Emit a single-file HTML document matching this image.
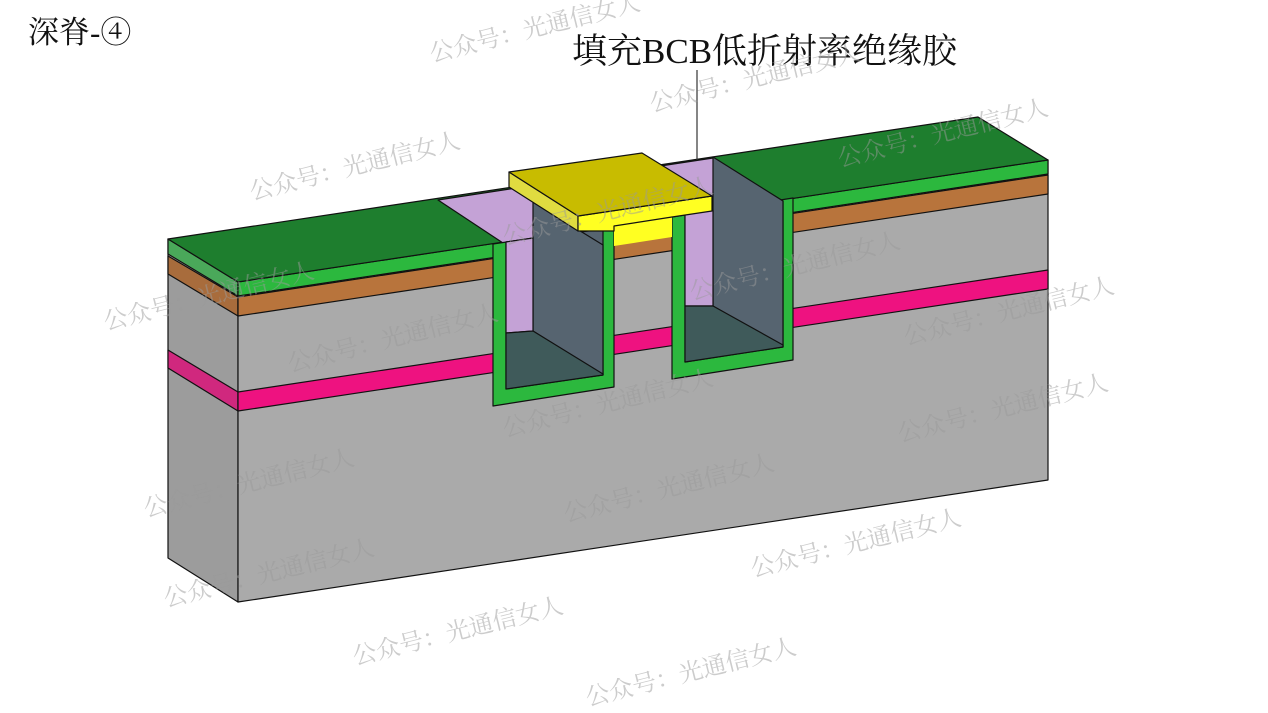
<!DOCTYPE html>
<html><head><meta charset="utf-8"><style>
html,body{margin:0;padding:0;background:#fff;}
svg{display:block}
text{font-family:"Liberation Serif","Noto Serif CJK SC",serif;}
</style></head><body>
<svg width="1268" height="713" viewBox="0 0 1268 713" xmlns="http://www.w3.org/2000/svg">
<g stroke="#111" stroke-width="1.2" stroke-linejoin="round">
<polygon points="168,239 238,282 238,602 168,558" fill="#9c9c9c"/>
<polygon points="168,239 238,282 238,296 168,254" fill="#4aa85a"/>
<polygon points="168,256 238,297 238,316 168,274" fill="#a86c3c"/>
<polygon points="168,350 238,392 238,411 168,368" fill="#d0287e"/>
<polygon points="238,282 1048,160 1048,480 238,602" fill="#aaaaaa"/>
<polygon points="238,282 1048,160 1048,174 238,296" fill="#2cb83e"/>
<polygon points="238,297 1048,175 1048,194 238,316" fill="#b8743c"/>
<polygon points="238,392 1048,270 1048,289 238,411" fill="#ee1280"/>
<polygon points="168,239 978,117 1048,160 238,282" fill="#1e7e2e"/>
<polygon points="438,200 713,158 783,201 503,243" fill="#c4a2d6"/>
<polygon points="493,244 614,226 614,387 493,406" fill="#2cb83e"/>
<polygon points="506,242 603,229 603,375 506,389" fill="#566470"/>
<polygon points="533,202 603,245 603,375 533,331" fill="#566470"/>
<polygon points="506,242 533,238 533,331 506,333" fill="#c4a2d6"/>
<polygon points="506,333 533,331 603,374 603,375 506,389" fill="#3f5a5a"/>
<polygon points="672,217 793,198 793,360 672,379" fill="#2cb83e"/>
<polygon points="685,214 783,201 783,347 685,362" fill="#566470"/>
<polygon points="713,157 783,201 783,347 713,306" fill="#566470"/>
<polygon points="685,214 713,210 713,306 685,306" fill="#c4a2d6"/>
<polygon points="685,306 713,306 783,345 783,347 685,362" fill="#3f5a5a"/>
<polygon points="614,226 672,217 672,237 614,246" fill="#ffff22" stroke="none"/>
<polygon points="509,172 578,216 578,231 509,187" fill="#e0dc40"/>
<polygon points="578,216 712,196 712,211 672,217 614,226 614,231 578,231" fill="#ffff22"/>
<polygon points="509,172 642,153 712,196 578,216" fill="#c8bc00"/>
</g>
<line x1="697" y1="70" x2="697" y2="160" stroke="#333" stroke-width="1.2"/>
<text x="572" y="63" font-size="35" fill="#111">填充BCB低折射率绝缘胶</text>
<text x="28" y="43" font-size="31" fill="#111">深脊-④</text>
<g font-size="24" fill="#999" fill-opacity="0.5">
<text transform="translate(432,62) rotate(-14)">公众号：光通信女人</text>
<text transform="translate(652,112) rotate(-14)">公众号：光通信女人</text>
<text transform="translate(252,200) rotate(-14)">公众号：光通信女人</text>
<text transform="translate(840,167) rotate(-14)">公众号：光通信女人</text>
<text transform="translate(106,330) rotate(-14)">公众号：光通信女人</text>
<text transform="translate(290,372) rotate(-14)">公众号：光通信女人</text>
<text transform="translate(505,245) rotate(-14)">公众号：光通信女人</text>
<text transform="translate(692,300) rotate(-14)">公众号：光通信女人</text>
<text transform="translate(906,345) rotate(-14)">公众号：光通信女人</text>
<text transform="translate(505,437) rotate(-14)">公众号：光通信女人</text>
<text transform="translate(900,442) rotate(-14)">公众号：光通信女人</text>
<text transform="translate(146,517) rotate(-14)">公众号：光通信女人</text>
<text transform="translate(566,522) rotate(-14)">公众号：光通信女人</text>
<text transform="translate(166,607) rotate(-14)">公众号：光通信女人</text>
<text transform="translate(753,577) rotate(-14)">公众号：光通信女人</text>
<text transform="translate(355,665) rotate(-14)">公众号：光通信女人</text>
<text transform="translate(588,706) rotate(-14)">公众号：光通信女人</text>
</g>
</svg>
</body></html>
